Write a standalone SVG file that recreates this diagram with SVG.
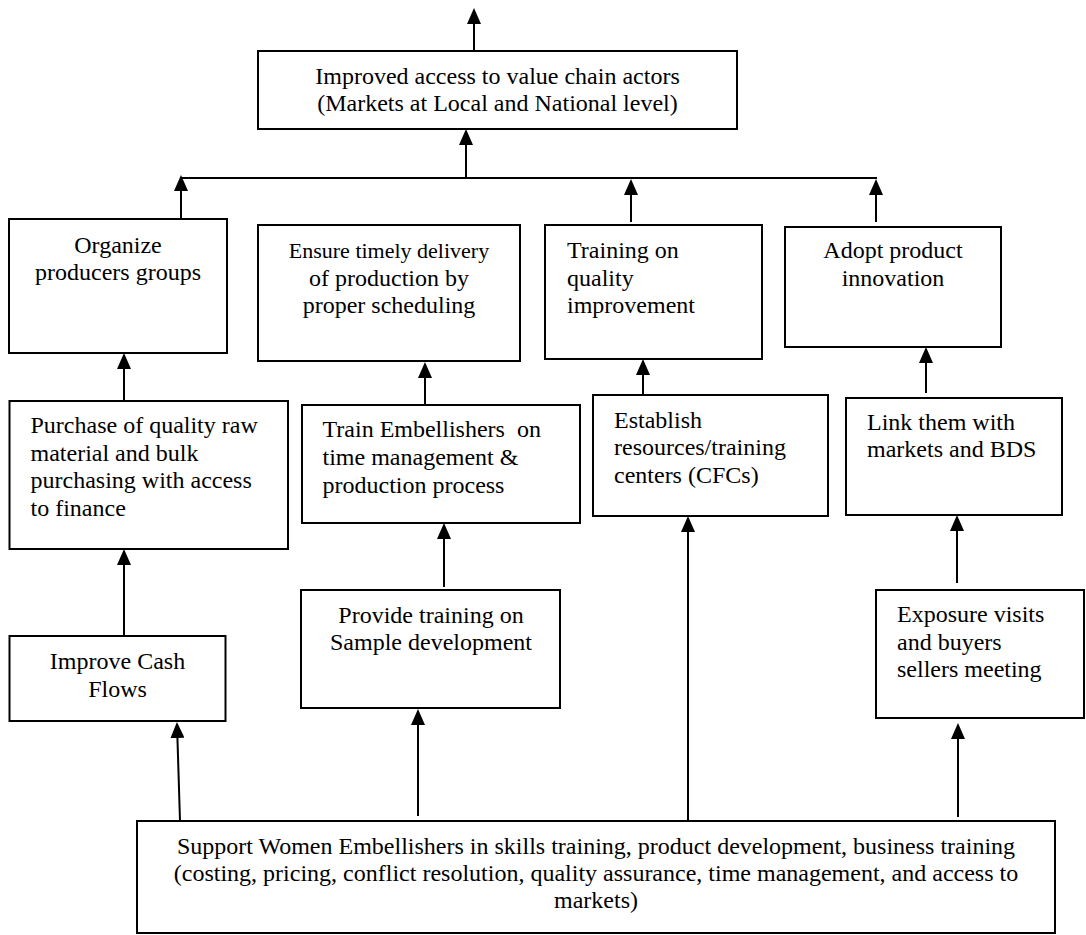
<svg xmlns="http://www.w3.org/2000/svg" width="1086" height="935" viewBox="0 0 1086 935">
<defs>
<marker id="ah" markerUnits="userSpaceOnUse" markerWidth="16" markerHeight="14" viewBox="0 0 16 14" refX="14" refY="7" orient="auto">
<path d="M0,0 L16,7 L0,14 Z" fill="#000"/>
</marker>
<style>
.box{fill:#fff;stroke:#000;stroke-width:2}
.t{font-size:24px;fill:#000}
.s{font-size:22px}
.c{text-anchor:middle}
.con line{stroke:#000;stroke-width:2;fill:none}
</style>
</defs>
<rect width="1086" height="935" fill="#fff"/>
<g class="con" id="connectors">
<line x1="474" y1="51" x2="474" y2="10" marker-end="url(#ah)"/>
<line x1="466" y1="178" x2="466" y2="131" marker-end="url(#ah)"/>
<line x1="180" y1="178" x2="877" y2="178"/>
<line x1="181" y1="219" x2="181" y2="177" marker-end="url(#ah)"/>
<line x1="631" y1="222" x2="631" y2="181" marker-end="url(#ah)"/>
<line x1="876" y1="222" x2="876" y2="181" marker-end="url(#ah)"/>
<line x1="124" y1="400" x2="124" y2="355" marker-end="url(#ah)"/>
<line x1="425" y1="404" x2="425" y2="364" marker-end="url(#ah)"/>
<line x1="643" y1="395" x2="643" y2="361" marker-end="url(#ah)"/>
<line x1="926" y1="393" x2="926" y2="349" marker-end="url(#ah)"/>
<line x1="124" y1="636" x2="124" y2="551" marker-end="url(#ah)"/>
<line x1="444" y1="587" x2="444" y2="525" marker-end="url(#ah)"/>
<line x1="957" y1="583" x2="957" y2="517" marker-end="url(#ah)"/>
<line x1="180" y1="821" x2="177" y2="724" marker-end="url(#ah)"/>
<line x1="418" y1="816" x2="418" y2="711" marker-end="url(#ah)"/>
<line x1="688" y1="821" x2="688" y2="518" marker-end="url(#ah)"/>
<line x1="958" y1="817" x2="958" y2="725" marker-end="url(#ah)"/>
</g>
<g font-family="Liberation Serif, Times New Roman, serif">
<g id="n-top">
<rect class="box" x="258" y="51" width="479" height="78"/>
<text class="t c" x="497.5" y="84">Improved access to value chain actors</text>
<text class="t c" x="497.5" y="111">(Markets at Local and National level)</text>
</g>
<g id="n-organize">
<rect class="box" x="9" y="219" width="218" height="134"/>
<text class="t c" x="118" y="253">Organize</text>
<text class="t c" x="118" y="280">producers groups</text>
</g>
<g id="n-ensure">
<rect class="box" x="258" y="225" width="262" height="136"/>
<text class="t s c" x="389" y="258">Ensure timely delivery</text>
<text class="t c" x="389" y="286">of production by</text>
<text class="t c" x="389" y="313">proper scheduling</text>
</g>
<g id="n-training">
<rect class="box" x="545" y="225" width="217" height="134"/>
<text class="t" x="567" y="258">Training on</text>
<text class="t" x="567" y="286">quality</text>
<text class="t" x="567" y="313">improvement</text>
</g>
<g id="n-adopt">
<rect class="box" x="785" y="227" width="216" height="120"/>
<text class="t c" x="893" y="258">Adopt product</text>
<text class="t c" x="893" y="286">innovation</text>
</g>
<g id="n-purchase">
<rect class="box" x="9.5" y="401" width="278.5" height="148"/>
<text class="t" x="30.5" y="433">Purchase of quality raw</text>
<text class="t" x="30.5" y="461">material and bulk</text>
<text class="t" x="30.5" y="488">purchasing with access</text>
<text class="t" x="30.5" y="516">to finance</text>
</g>
<g id="n-train">
<rect class="box" x="302" y="405" width="278" height="118"/>
<text class="t" x="322.5" y="437" xml:space="preserve">Train Embellishers  on</text>
<text class="t" x="322.5" y="465">time management &amp;</text>
<text class="t" x="322.5" y="493">production process</text>
</g>
<g id="n-establish">
<rect class="box" x="593" y="395" width="235" height="121"/>
<text class="t" x="614" y="428">Establish</text>
<text class="t" x="614" y="455">resources/training</text>
<text class="t" x="614" y="483">centers (CFCs)</text>
</g>
<g id="n-link">
<rect class="box" x="846" y="398" width="216" height="117"/>
<text class="t" x="867" y="430">Link them with</text>
<text class="t" x="867" y="457">markets and BDS</text>
</g>
<g id="n-improve">
<rect class="box" x="9.5" y="636" width="216" height="85"/>
<text class="t c" x="117.5" y="669">Improve Cash</text>
<text class="t c" x="117.5" y="697">Flows</text>
</g>
<g id="n-provide">
<rect class="box" x="301" y="590" width="259" height="118"/>
<text class="t c" x="431" y="623">Provide training on</text>
<text class="t c" x="431" y="650">Sample development</text>
</g>
<g id="n-exposure">
<rect class="box" x="876" y="590" width="208" height="128"/>
<text class="t" x="897" y="622">Exposure visits</text>
<text class="t" x="897" y="650">and buyers</text>
<text class="t" x="897" y="677">sellers meeting</text>
</g>
<g id="n-support">
<rect class="box" x="137" y="821" width="918" height="112"/>
<text class="t c" x="596" y="854">Support Women Embellishers in skills training, product development, business training</text>
<text class="t c" x="596" y="881">(costing, pricing, conflict resolution, quality assurance, time management, and access to</text>
<text class="t c" x="596" y="908">markets)</text>
</g>
</g>
</svg>
